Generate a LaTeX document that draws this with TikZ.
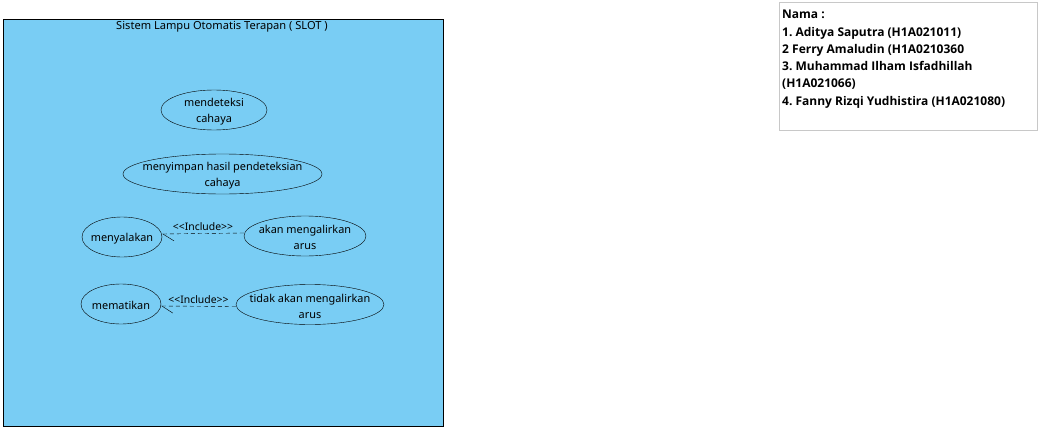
\documentclass[tikz,border=0pt]{standalone}
\usepackage{fontspec}
\setmainfont{Noto Sans}
\newfontfamily\notefont{Open Sans}
\usetikzlibrary{shapes.geometric,arrows.meta}
\definecolor{sysblue}{HTML}{79CDF4}
\definecolor{notegray}{HTML}{C8C8C8}
\tikzset{
  usecase/.style={draw, ellipse, inner sep=0pt, minimum height=40pt},
  uctext/.style={align=center, inner sep=0pt, yshift=-1.5pt,
    font=\fontsize{10.9}{16}\selectfont},
  incl/.style={dashed, dash pattern=on 4pt off 3pt,
    -{Straight Barb[harpoon, length=11pt, width=14pt]}},
  inclabel/.style={font=\fontsize{10.4}{12}\selectfont, inner sep=1pt},
}
\begin{document}
\frenchspacing
\begin{tikzpicture}[x=1pt,y=-1pt]
  \useasboundingbox (0,0) rectangle (1041,431);
    %% system box
    \draw[line width=.8pt, fill=sysblue] (3,19) rectangle (443,426);
    \node (title) at (222,27) {\fontsize{11.1}{12}\selectfont Sistem Lampu Otomatis Terapan ( SLOT )};

    %% use cases
    \node[usecase, minimum width=106pt] (deteksi) at (214,110) {};
    \node[uctext] (deteksi-t) at (deteksi) {mendeteksi\\cahaya};
    \node[usecase, minimum width=199pt] (simpan) at (222.5,174) {};
    \node[uctext] (simpan-t) at (simpan) {menyimpan hasil pendeteksian\\cahaya};
    \node[usecase, minimum width=80pt] (nyala) at (122,237) {};
    \node[uctext] (nyala-t) at (nyala) {menyalakan};
    \node[usecase, minimum width=122pt] (akan) at (305,236) {};
    \node[uctext] (akan-t) at (akan) {akan mengalirkan\\arus};
    \node[usecase, minimum width=80pt] (mati) at (121,304) {};
    \node[uctext] (mati-t) at (mati) {mematikan};
    \node[usecase, minimum width=148pt] (tidak) at (310,304.5) {};
    \node[uctext] (tidak-t) at (tidak) {tidak akan mengalirkan\\arus};

    %% include
    \draw[incl] ([yshift=3pt]akan.west) -- ([yshift=3pt]nyala.east)
      node[midway, above=1.5pt, inclabel] (inc1) {{<}{<}Include{>}{>}};
    \draw[incl] ([yshift=-2pt]tidak.west) -- ([yshift=-2pt]mati.east)
      node[midway, above=1.5pt, inclabel] (inc2) {{<}{<}Include{>}{>}};

    %% names
    \draw[notegray, fill=white] (779,2) rectangle (1037,130);
    \foreach \txt [count=\i] in {Nama :, 1. Aditya Saputra (H1A021011), 2 Ferry Amaludin (H1A0210360,
        3. Muhammad Ilham Isfadhillah, (H1A021066), 4. Fanny Rizqi Yudhistira (H1A021080)}
      \node[anchor=base west, inner sep=0pt, font=\notefont\bfseries\fontsize{12}{14}\selectfont] (nm\i)
        at (782,{19+17.2*(\i-1)}) {\txt};
\end{tikzpicture}
\end{document}
